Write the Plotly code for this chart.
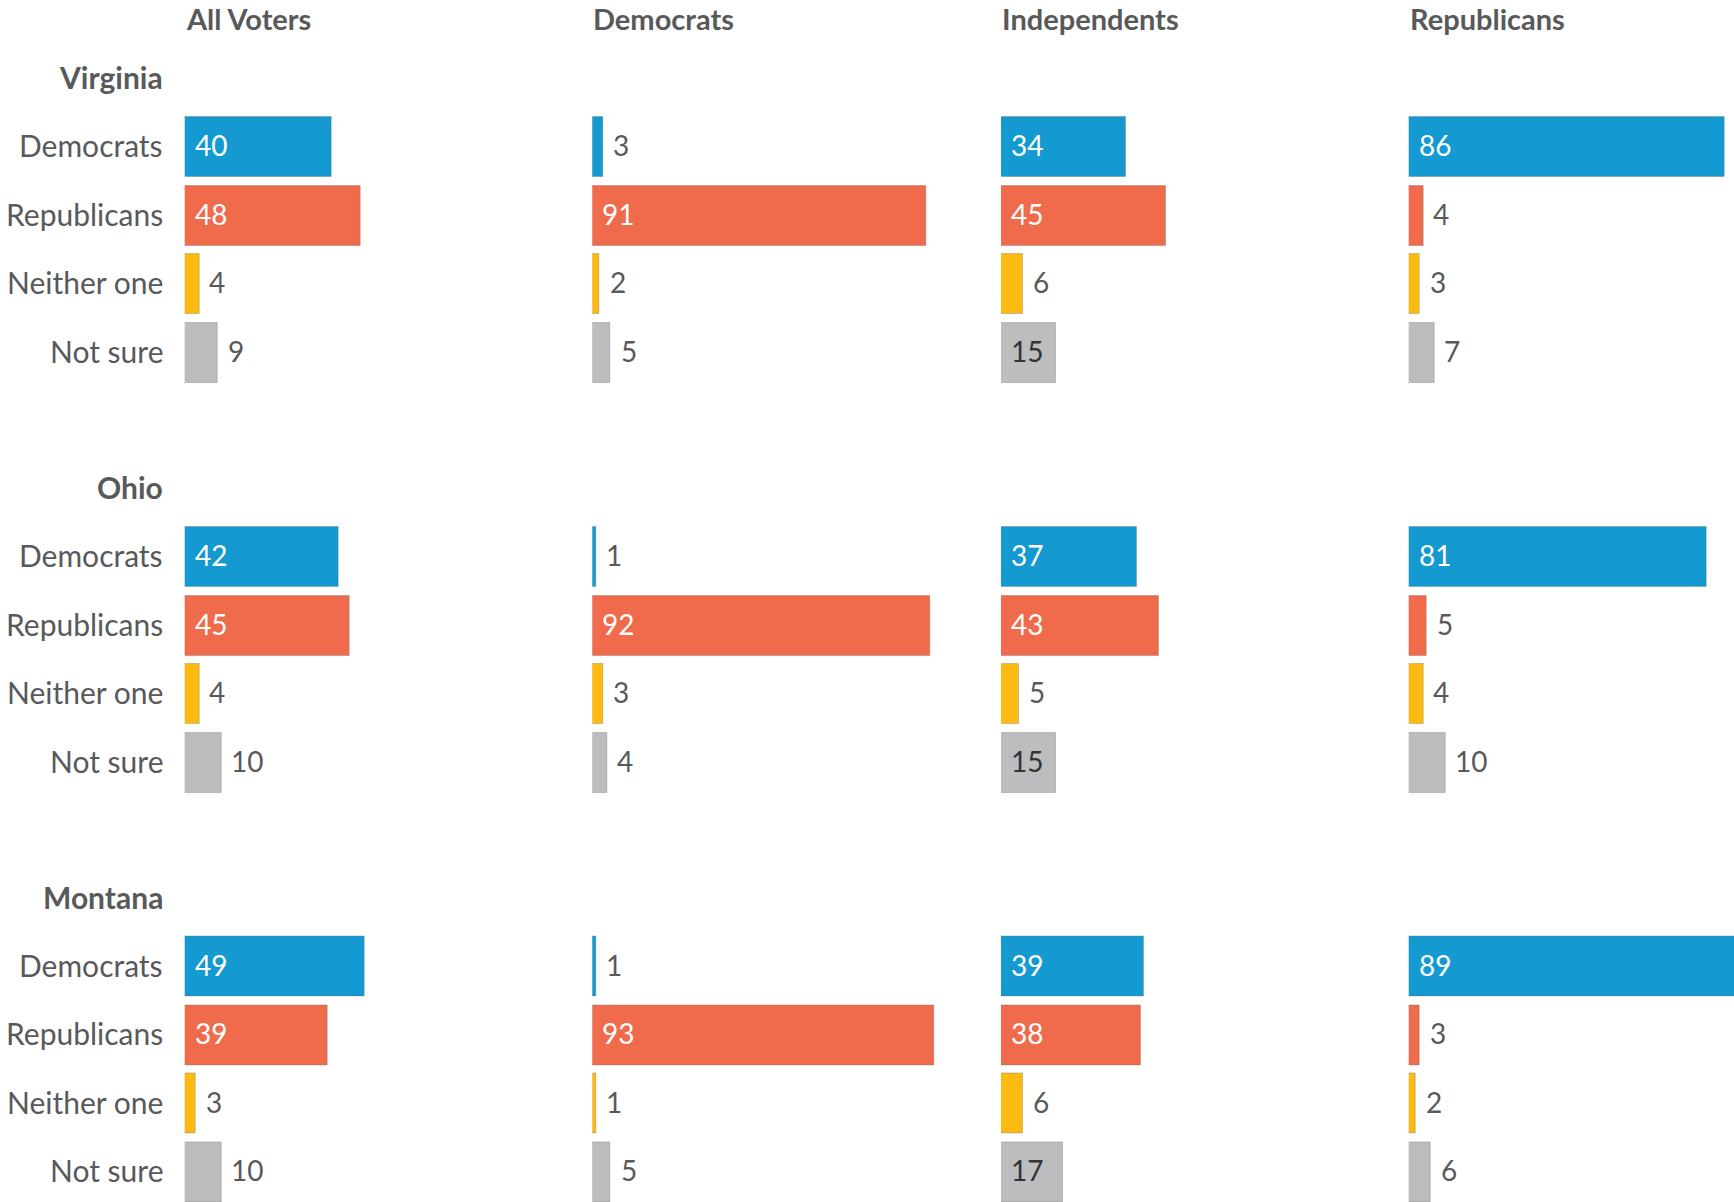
import plotly.graph_objects as go

# ---- data -------------------------------------------------------------
states = ["Virginia", "Ohio", "Montana"]
groups = ["All Voters", "Democrats", "Independents", "Republicans"]
answers = ["Democrats", "Republicans", "Neither one", "Not sure"]

# share of each answer, one list per voter group (All, Dem, Ind, Rep)
virginia = [[40, 48, 4, 9], [3, 91, 2, 5], [34, 45, 6, 15], [86, 4, 3, 7]]
ohio = [[42, 45, 4, 10], [1, 92, 3, 4], [37, 43, 5, 15], [81, 5, 4, 10]]
montana = [[49, 39, 3, 10], [1, 93, 1, 5], [39, 38, 6, 17], [89, 3, 2, 6]]
state_values = [virginia, ohio, montana]

# ---- style ------------------------------------------------------------
answer_colors = ["#1599d1", "#f06a4c", "#fdbb12", "#bbbdbf"]
inside_text_colors = ["#ffffff", "#ffffff", "#333333", "#333333"]
TEXT = "#58595b"
FONT = "Lato"

W, H = 1734, 1202
COL_X0 = [184.7, 592.3, 1001.0, 1408.7]   # left edge of each column (px)
COL_SPAN = 400                              # drawing width of a column (px)
PX_PER_UNIT = 3.675                         # horizontal px per percentage point
ROW_TOP = [117.3, 527.3, 936.7]             # top of the first bar in each state block (px)
PITCH = 68.5                                # distance between bar centres (px)
BAR_PX = 60                                 # bar thickness (px)
LABEL_RIGHT = 165.0                         # right edge of row / state labels (px)
INSIDE_MIN = 12                             # values at or above this sit inside the bar

fig = go.Figure()
annotations = []

for r, state in enumerate(states):
    # vertical placement of this state's block
    top_px = ROW_TOP[r] + BAR_PX / 2 - PITCH / 2
    bot_px = min(H, ROW_TOP[r] + BAR_PX / 2 + 3.5 * PITCH)
    y_end = -0.5 + (bot_px - top_px) / PITCH
    y_dom = [1 - bot_px / H, 1 - top_px / H]

    for c, group in enumerate(groups):
        idx = r * 4 + c + 1
        xname = "x" if idx == 1 else f"x{idx}"
        yname = "y" if idx == 1 else f"y{idx}"
        span = min(COL_SPAN, W - COL_X0[c])
        x_dom = [COL_X0[c] / W, min(1.0, (COL_X0[c] + span) / W)]
        vals = state_values[r][c]

        fig.add_trace(go.Bar(
            x=vals,
            y=list(range(len(answers))),
            orientation="h",
            width=BAR_PX / PITCH,
            marker=dict(color=answer_colors,
                        line=dict(color="rgba(110,110,110,0.35)", width=1)),
            hoverinfo="skip",
            showlegend=False,
            xaxis=xname,
            yaxis=yname,
        ))

        axis_common = dict(showgrid=False, zeroline=False, showticklabels=False,
                           showline=False, ticks="", fixedrange=True)
        fig.layout[f"xaxis{'' if idx == 1 else idx}"] = dict(
            domain=x_dom, range=[0, span / PX_PER_UNIT], anchor=yname, **axis_common)
        fig.layout[f"yaxis{'' if idx == 1 else idx}"] = dict(
            domain=y_dom, range=[y_end, -0.5], anchor=xname, **axis_common)

        # value labels
        for k, v in enumerate(vals):
            inside = v >= INSIDE_MIN
            annotations.append(dict(
                x=0 if inside else v, y=k, xref=xname, yref=yname,
                text=str(v), showarrow=False, xanchor="left", yanchor="middle",
                xshift=8, yshift=2,
                font=dict(family=FONT, size=28,
                          color=inside_text_colors[k] if inside else TEXT),
            ))

        # answer labels on the left of the first column
        if c == 0:
            for k, a in enumerate(answers):
                annotations.append(dict(
                    x=LABEL_RIGHT / W, y=k, xref="paper", yref=yname,
                    text=a, showarrow=False, xanchor="right", yanchor="middle",
                    yshift=2,
                    font=dict(family=FONT, size=30, color=TEXT),
                ))

    # state heading, one bar pitch above the first bar
    annotations.append(dict(
        x=LABEL_RIGHT / W, y=1 - (ROW_TOP[r] + BAR_PX / 2 - PITCH - 1.5) / H,
        xref="paper", yref="paper", text=f"<b>{state}</b>", showarrow=False,
        xanchor="right", yanchor="middle",
        font=dict(family=FONT, size=30, color=TEXT),
    ))

# column headings, hung from the top edge of the page
for c, group in enumerate(groups):
    annotations.append(dict(
        x=COL_X0[c] / W, y=1.0, xref="paper", yref="paper",
        text=f"<b>{group}</b>", showarrow=False, xanchor="left", yanchor="top",
        borderpad=0,
        font=dict(family=FONT, size=29, color=TEXT),
    ))

fig.update_layout(
    width=W, height=H, autosize=False,
    margin=dict(l=0, r=0, t=0, b=0, pad=0),
    paper_bgcolor="white", plot_bgcolor="white",
    annotations=annotations,
    bargap=0,
)

fig.write_html("out.html", config={"displayModeBar": False})
